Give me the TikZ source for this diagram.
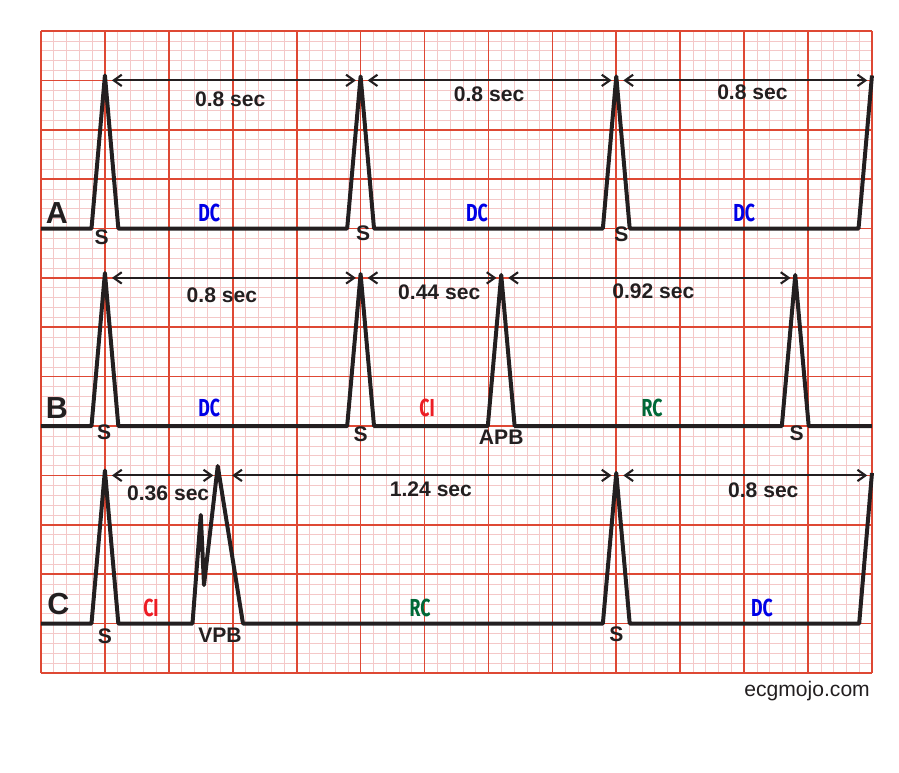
\documentclass[tikz,border=0pt]{standalone}
\usepackage{fontspec}
\setmainfont{Liberation Sans}
\newfontfamily\condfont[FakeStretch=0.72]{Fira Sans}
\usetikzlibrary{arrows.meta}
\definecolor{ink}{RGB}{35,31,32}
\definecolor{gridmajor}{RGB}{222,72,52}
\definecolor{gridminor}{RGB}{244,200,200}
\definecolor{dcblue}{RGB}{0,0,230}
\definecolor{cired}{RGB}{237,28,36}
\definecolor{rcgreen}{RGB}{0,104,55}
% one narrow QRS spike: centre, baseline, peak
\newcommand{\qrs}[3]{-- (#1-0.21,#2) -- (#1,#3) -- (#1+0.21,#2)}

\begin{document}
\begin{tikzpicture}[x=1.9177cm, y=1.4815cm,
    minor/.style={gridminor, line width=0.5pt},
    major/.style={gridmajor, line width=1.4pt},
    trace/.style={ink, line width=3.4pt, line join=round},
    interval/.style={ink, line width=1.8pt,
        {Straight Barb[length=2.4mm,width=3.4mm]}-{Straight Barb[length=2.4mm,width=3.4mm]},
        shorten <=6pt, shorten >=4pt},
    secl/.style={text=ink, font=\bfseries\fontsize{18}{20}\selectfont, inner sep=0pt},
    zone/.style={font=\condfont\bfseries\fontsize{21}{23}\selectfont, inner sep=0pt},
    beat/.style={text=ink, font=\bfseries\fontsize{18}{20}\selectfont, inner sep=0pt},
    rowlabel/.style={text=ink, font=\bfseries\fontsize{26}{28}\selectfont, inner sep=0pt}]
    \useasboundingbox (-0.6414,-2.025) rectangle (13.423,13.628);

    % ECG paper
    \foreach \i in {0,...,65} \draw[minor] (\i/5,0) -- (\i/5,13);
    \foreach \i in {0,...,65} \draw[minor] (0,\i/5) -- (13,\i/5);
    \foreach \i in {0,...,13} {
        \draw[major] (\i,0) -- (\i,13);
        \draw[major] (0,\i) -- (13,\i);
    }

    % Define the beat positions (arrow level)
    \coordinate (A1) at (1,12);
    \coordinate (A2) at (5,12);
    \coordinate (A3) at (9,12);
    \coordinate (A4) at (13,12);
    \coordinate (B1) at (1,8);
    \coordinate (B2) at (5,8);
    \coordinate (B3) at (7.2,8);
    \coordinate (B4) at (11.8,8);
    \coordinate (C1) at (1,4);
    \coordinate (C2) at (2.77,4);
    \coordinate (C3) at (9,4);
    \coordinate (C4) at (13,4);

    % Draw the strips
    \draw[trace] (0,9) \qrs{1}{9}{12.1} \qrs{5}{9}{12.08} \qrs{9}{9}{12.08} -- (12.79,9) -- (13,12.1);
    \draw[trace] (0,5) \qrs{1}{5}{8.1} \qrs{5}{5}{8.08} \qrs{7.2}{5}{8.06} \qrs{11.8}{5}{8.06} -- (13,5);
    \draw[trace] (0,1) \qrs{1}{1}{4.1} -- (2.37,1) -- (2.5,3.2) -- (2.55,1.78) -- (2.765,4.19) -- (3.16,1)
        \qrs{9}{1}{4.05} -- (12.8,1) -- (13,4.05);

    % intervals
    \draw[interval] (A1) -- (A2);
    \draw[interval] (A2) -- (A3);
    \draw[interval] (A3) -- (A4);
    \draw[interval] (B1) -- (B2);
    \draw[interval] (B2) -- (B3);
    \draw[interval] (B3) -- (B4);
    \draw[interval] (C1) -- (C2);
    \draw[interval, shorten <=12pt] (C2) -- (C3);
    \draw[interval] (C3) -- (C4);

    \node[secl] (tA1) at (2.96,11.62) {0.8 sec};
    \node[secl] (tA2) at (7.01,11.72) {0.8 sec};
    \node[secl] (tA3) at (11.13,11.76) {0.8 sec};
    \node[secl] (tB1) at (2.83,7.65) {0.8 sec};
    \node[secl] (tB2) at (6.23,7.71) {0.44 sec};
    \node[secl] (tB3) at (9.58,7.73) {0.92 sec};
    \node[secl] (tC1) at (1.99,3.64) {0.36 sec};
    \node[secl] (tC2) at (6.10,3.72) {1.24 sec};
    \node[secl] (tC3) at (11.30,3.70) {0.8 sec};

    % cycle labels
    \node[zone, text=dcblue] (zA1) at (2.63,9.31) {DC};
    \node[zone, text=dcblue] (zA2) at (6.82,9.31) {DC};
    \node[zone, text=dcblue] (zA3) at (11.0,9.31) {DC};
    \node[zone, text=dcblue] (zB1) at (2.63,5.36) {DC};
    \node[zone, text=cired] (zB2) at (6.04,5.36) {CI};
    \node[zone, text=rcgreen] (zB3) at (9.56,5.36) {RC};
    \node[zone, text=cired] (zC1) at (1.72,1.32) {CI};
    \node[zone, text=rcgreen] (zC2) at (5.93,1.32) {RC};
    \node[zone, text=dcblue] (zC3) at (11.28,1.32) {DC};

    % beat labels
    \node[beat] (sA1) at (0.95,8.83) {S};
    \node[beat] (sA2) at (5.04,8.91) {S};
    \node[beat] (sA3) at (9.08,8.89) {S};
    \node[beat] (sB1) at (0.99,4.88) {S};
    \node[beat] (sB2) at (5.0,4.84) {S};
    \node[beat] (apb) at (7.2,4.78) {APB};
    \node[beat] (sB4) at (11.82,4.86) {S};
    \node[beat] (sC1) at (1.0,0.75) {S};
    \node[beat] (vpb) at (2.8,0.77) {VPB};
    \node[beat] (sC3) at (9.0,0.78) {S};

    \node[rowlabel] (rowA) at (0.25,9.31) {A};
    \node[rowlabel] (rowB) at (0.25,5.36) {B};
    \node[rowlabel] (rowC) at (0.27,1.40) {C};

    \node[anchor=base east, text=ink, font=\fontsize{18}{20}\selectfont, inner sep=0pt] (site) at (12.97,-0.486) {ecgmojo.com};
\end{tikzpicture}
\end{document}
